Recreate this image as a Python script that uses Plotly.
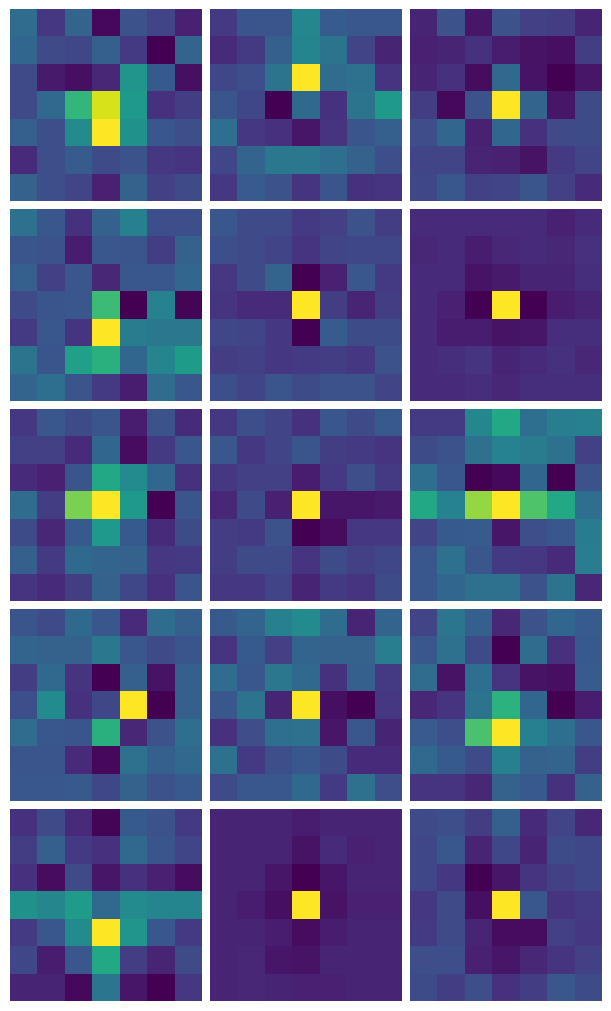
import plotly.graph_objects as go
from plotly.subplots import make_subplots

# heatmap values per panel (0 - 100 on the viridis scale)
panel_1 = [[35,16,32,2,25,20,9],[33,22,21,30,17,0,32],[22,7,4,11,52,28,4],[22,34,66,94,54,14,18],[30,24,47,100,50,27,24],[12,24,29,22,25,16,15],[31,24,20,9,31,19,23]]
panel_2 = [[17,26,26,46,29,27,27],[12,17,30,45,38,20,10],[21,24,38,100,35,37,15],[26,21,0,34,14,38,54],[36,16,14,6,15,26,30],[21,32,40,40,36,31,24],[16,29,25,15,26,14,15]]
panel_3 = [[10,25,6,25,19,18,10],[9,10,14,8,5,4,18],[10,14,3,34,5,0,6],[18,2,25,100,32,6,23],[24,33,9,33,14,22,23],[20,20,10,9,5,17,20],[21,27,19,20,26,19,12]]
panel_4 = [[37,27,14,31,43,24,24],[26,25,8,27,26,18,31],[30,19,27,11,27,27,33],[22,26,27,68,0,44,1],[17,27,15,100,41,40,40],[38,26,57,63,33,45,55],[32,36,26,17,8,35,27]]
panel_5 = [[27,22,22,17,19,25,18],[24,22,20,15,20,21,21],[16,22,32,0,9,27,17],[15,12,12,100,18,10,18],[21,20,16,0,29,23,23],[18,19,16,17,18,16,25],[24,20,26,23,25,25,20]]
panel_6 = [[12,12,12,12,12,9,12],[11,12,8,11,12,11,14],[12,12,5,7,10,10,13],[12,9,0,100,0,8,10],[12,8,8,5,6,13,13],[12,13,15,10,12,14,11],[12,12,13,11,13,13,13]]
panel_7 = [[16,27,23,26,8,25,12],[19,19,12,33,3,17,27],[12,9,26,60,47,33,14],[35,18,80,100,54,0,26],[23,11,28,54,28,12,23],[30,17,34,32,31,16,17],[15,12,18,31,21,14,26]]
panel_8 = [[16,24,20,14,27,22,28],[27,16,20,26,18,17,15],[16,19,19,8,17,24,17],[11,23,9,100,6,6,7],[18,17,25,0,3,16,16],[18,22,22,15,23,19,21],[16,16,20,10,17,15,23]]
panel_9 = [[17,17,46,60,36,42,43],[23,25,37,44,41,37,19],[36,27,0,2,33,0,25],[60,44,84,100,72,60,36],[20,28,29,6,24,27,41],[27,37,27,17,16,12,42],[27,33,37,37,25,38,11]]
panel_10 = [[26,22,34,27,12,35,30],[32,31,31,40,27,22,26],[18,34,15,0,30,5,30],[24,47,14,21,100,0,30],[35,27,26,63,11,25,36],[26,26,12,2,37,30,34],[27,27,28,21,31,25,28]]
panel_11 = [[28,32,43,47,35,10,32],[15,28,19,32,31,31,42],[35,27,40,34,14,30,17],[27,38,10,100,4,0,16],[14,24,36,37,6,27,10],[37,17,24,27,23,12,12],[22,27,27,34,17,37,24]]
panel_12 = [[20,39,30,11,25,33,29],[27,37,23,0,35,14,28],[35,5,36,15,5,4,29],[11,15,38,64,33,0,8],[29,24,71,100,43,36,27],[34,28,23,43,31,32,18],[15,15,11,31,28,14,31]]
panel_13 = [[14,22,12,1,28,25,17],[18,30,17,14,34,26,20],[14,3,22,6,14,9,3],[50,46,55,34,47,45,45],[17,27,47,100,52,27,17],[21,8,27,60,18,10,22],[10,10,2,39,6,0,16]]
panel_14 = [[10,10,10,8,10,10,10],[10,10,10,5,12,9,10],[10,10,6,0,6,10,10],[10,8,4,100,5,9,9],[10,10,8,3,8,10,10],[10,11,6,5,10,10,10],[10,11,10,9,9,10,10]]
panel_15 = [[22,24,18,30,12,20,11],[21,27,10,21,10,23,21],[21,16,0,6,15,19,21],[16,22,4,100,27,15,17],[17,22,10,3,3,19,16],[24,24,9,6,11,15,19],[23,18,24,14,18,27,23]]

panels = [panel_1, panel_2, panel_3, panel_4, panel_5, panel_6, panel_7, panel_8,
          panel_9, panel_10, panel_11, panel_12, panel_13, panel_14, panel_15]

# matplotlib viridis, plotly's own "Viridis" has fewer stops
viridis = ["#440154", "#471365", "#482475", "#463480", "#414487", "#3b528b", "#355f8d",
           "#2f6c8e", "#2a788e", "#25858e", "#21918c", "#1e9c89", "#22a884", "#2fb47c",
           "#44bf70", "#5ec962", "#7ad151", "#9bd93c", "#bddf26", "#dfe318", "#fde725"]

fig = make_subplots(rows=5, cols=3, horizontal_spacing=8/595, vertical_spacing=8/995)

for i, z in enumerate(panels):
  fig.add_trace(go.Heatmap(z=z, coloraxis="coloraxis"), row=i//3 + 1, col=i%3 + 1)

fig.update_xaxes(visible=False)
fig.update_yaxes(visible=False, autorange="reversed")

# page has 8px body margin, so the figure sits at (8,8)
fig.update_layout(
  width=595,
  height=995,
  margin=dict(l=2, r=1, t=1, b=2),
  paper_bgcolor="white",
  plot_bgcolor="white",
  coloraxis=dict(colorscale=[[k/20, c] for k, c in enumerate(viridis)], cmin=0, cmax=100, showscale=False),
)

fig.write_html("out.html")
